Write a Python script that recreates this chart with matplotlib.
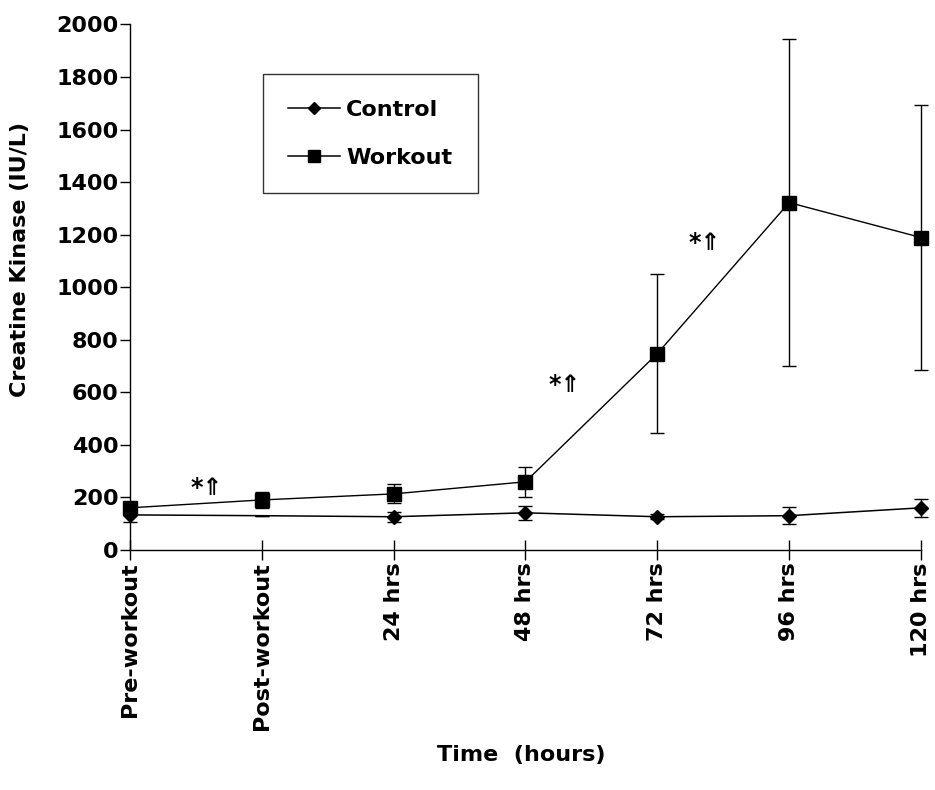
import matplotlib
matplotlib.use("Agg")
import matplotlib.pyplot as plt
from matplotlib.lines import Line2D
import numpy as np

# Creatine kinase time course, control vs workout group
time_points = ["Pre-workout", "Post-workout", "24 hrs", "48 hrs", "72 hrs", "96 hrs", "120 hrs"]
control_mean = [133, 130, 126, 141, 126, 130, 160]
control_err = [26, 0, 19, 27, 10, 33, 34]
workout_mean = [160, 190, 213, 259, 747, 1322, 1189]
workout_err = [20, 29, 36, 57, 303, 622, 505]

# significance marks (x between time points, y in IU/L)
sig_x = [0.58, 3.30, 4.36]
sig_y = [236, 629, 1170]

plt.rcParams["font.family"] = ["DejaVu Sans"]
plt.rcParams["font.weight"] = "bold"

fig = plt.figure(figsize=(9.35, 7.9), dpi=100)
ax = fig.add_axes([0.139, 0.304, 0.846, 0.665])

x = np.arange(len(time_points))

ax.errorbar(x, control_mean, yerr=control_err, color="black", lw=1.1,
            marker="D", ms=7, markevery=[0, 2, 3, 4, 5, 6],
            capsize=5, elinewidth=1, capthick=1, clip_on=False, zorder=3)
ax.errorbar(x, workout_mean, yerr=workout_err, color="black", lw=1.0,
            marker="s", ms=10, capsize=5, elinewidth=1, capthick=1,
            clip_on=False, zorder=3)

for sx, sy in zip(sig_x, sig_y):
    ax.text(sx, sy, "*\u21D1", ha="center", va="center", fontsize=17, fontweight="bold")

ax.set_xlim(0, 6)
ax.set_ylim(0, 2000)
ax.set_yticks(np.arange(0, 2001, 200))
ax.set_xticks(x)
ax.set_xticklabels(time_points, rotation=90, va="top", ha="center")

ax.spines["top"].set_visible(False)
ax.spines["right"].set_visible(False)
ax.spines["left"].set_linewidth(1.0)
ax.spines["bottom"].set_linewidth(1.0)

ax.tick_params(axis="y", direction="out", length=7, width=1, labelsize=16, pad=1)
ax.tick_params(axis="x", direction="inout", length=14, width=1, labelsize=16, pad=2)
for lbl in ax.get_xticklabels() + ax.get_yticklabels():
    lbl.set_fontweight("bold")

ax.set_ylabel("Creatine Kinase (IU/L)", fontsize=16, fontweight="bold")
ax.yaxis.set_label_coords(-0.126, 0.552)
ax.set_xlabel("Time  (hours)", fontsize=16, fontweight="bold")
ax.xaxis.set_label_coords(0.495, -0.371)

handles = [Line2D([], [], color="black", lw=1.1, marker="D", ms=6),
           Line2D([], [], color="black", lw=1.1, marker="s", ms=8)]
leg = ax.legend(handles, ["Control", "Workout"], loc="upper left",
                bbox_to_anchor=(0.168, 0.905), borderaxespad=0, frameon=True,
                fancybox=False, edgecolor="black", handlelength=2.3,
                handletextpad=0.3, labelspacing=1.25, borderpad=1.15,
                prop={"weight": "bold", "size": 16})
leg.get_frame().set_linewidth(1.0)

fig.savefig("out.png", dpi=100)
